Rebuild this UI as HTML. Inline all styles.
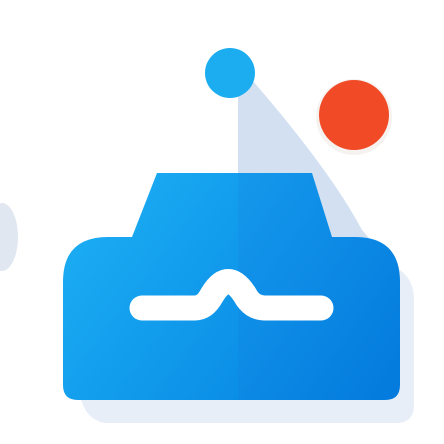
<!DOCTYPE html>
<html><head><style>body{margin:0;background:#fff}svg{display:block}</style></head><body>
<svg width="444" height="444" viewBox="0 0 444 444">
<defs>
<linearGradient id="b" x1="0" y1="0" x2="1" y2="1"><stop offset="0" stop-color="#1eb2f5"/><stop offset="1" stop-color="#0a8de6"/></linearGradient>
<linearGradient id="d" x1="0" y1="0" x2="1" y2="1"><stop offset="0" stop-color="#1599ec"/><stop offset="1" stop-color="#0278dc"/></linearGradient>
<clipPath id="c"><path d="M157,173 L312,173 L332,237 L355,237 Q400,237 400,282 L400,385 Q400,400 385,400 L78,400 Q63,400 63,385 L63,282 Q63,237 108,237 L132,237 Z"/></clipPath>
</defs>
<path d="M80,395 L400,270 Q414,280 414,300 L414,405 Q414,422 398,423 L105,423 Q85,420 80,395 Z" fill="#e8eef8"/>
<path d="M238,80 L252,80 Q330,170 362,230 L375,245 L238,245 Z" fill="#d3e0f1"/>
<ellipse cx="2" cy="237" rx="16" ry="34" fill="#e1e7f1"/>
<circle cx="230" cy="73" r="25" fill="#1cadf0"/>
<circle cx="354" cy="117" r="38" fill="#f6f2f0"/>
<circle cx="354" cy="115" r="35" fill="#f04b26"/>
<g clip-path="url(#c)">
<rect x="60" y="170" width="180" height="240" fill="url(#b)"/>
<rect x="238" y="170" width="170" height="240" fill="url(#d)"/>
</g>
<path d="M142,308 L195,308 Q205,308 212,295 Q228,268 245,295 Q252,308 265,308 L321,308" fill="none" stroke="#fff" stroke-width="25" stroke-linecap="round" stroke-linejoin="round"/>
</svg>
</body></html>
